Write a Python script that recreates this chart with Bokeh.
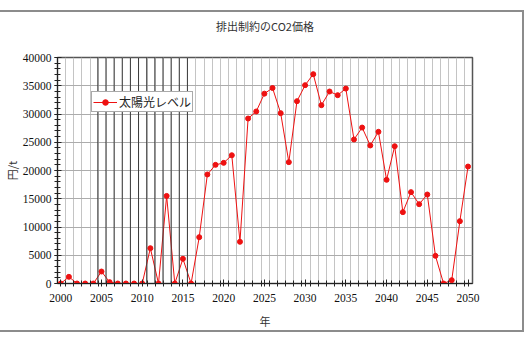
from bokeh.plotting import figure
from bokeh.models import (ColumnDataSource, FixedTicker, Span, Legend, LegendItem, Spacer, Title)
from bokeh.layouts import column
from bokeh.embed import file_html
from bokeh.resources import INLINE

years = list(range(2000, 2051))
solar_level = [0, 1180, 0, 0, 0, 2120, 240, 0, 0, 0,
               0, 6250, 0, 15500, 0, 4370, 0, 8200, 19300, 21000,
               21350, 22700, 7380, 29200, 30450, 33600, 34600, 30150, 21480, 32270,
               35100, 37050, 31560, 33980, 33330, 34500, 25490, 27600, 24430, 26850,
               18350, 24300, 12630, 16170, 14040, 15750, 4900, 0, 590, 11030,
               20700]
x_ticks = list(range(2000, 2051, 5))
y_ticks = list(range(0, 40001, 5000))

title_text = "排出制約のCO2価格"
x_title = "年"
y_title = "円/t"
series_name = "太陽光レベル"

src = ColumnDataSource(dict(x=years, y=solar_level))

p = figure(width=524, height=322, output_backend="svg", toolbar_location=None,
           x_range=(1999.6, 2050.55), y_range=(0, 40000), title=None,
           min_border_left=56, min_border_right=52, min_border_top=45, min_border_bottom=51)
p.styles = {"border-top": "2px solid #8c8c8c", "border-right": "2px solid #8c8c8c",
            "border-bottom": "2px solid #8c8c8c"}

main_title = Title(text=title_text, align="center", text_font="Noto Sans CJK JP",
                   text_font_size="11px", text_font_style="normal", text_color="#333333",
                   standoff=0)
gap = Title(text=" ", text_font_size="11px", standoff=10)
p.above = [gap, main_title]

p.outline_line_color = "#555555"
p.outline_line_width = 1.5

minor_x = [y + 0.6 for y in years[:-1]]
p.xaxis.ticker = FixedTicker(ticks=x_ticks, minor_ticks=minor_x)
p.yaxis.ticker = FixedTicker(ticks=y_ticks, minor_ticks=list(range(0, 40001, 1000)))
p.xgrid.ticker = FixedTicker(ticks=minor_x)
p.xgrid.grid_line_color = "#c4c4c4"
p.xgrid.grid_line_width = 1
p.ygrid.grid_line_color = "#acacac"
p.ygrid.grid_line_width = 1

for ax in (p.xaxis[0], p.yaxis[0]):
    ax.axis_line_color = "#222222"
    ax.major_tick_line_color = "#222222"
    ax.minor_tick_line_color = "#222222"
    ax.major_tick_in = 4
    ax.major_tick_out = 3
    ax.minor_tick_in = 3
    ax.minor_tick_out = 3
    ax.major_label_text_font = "Liberation Serif"
    ax.major_label_text_font_size = "11.5px"
    ax.major_label_text_color = "#111111"
    ax.axis_label_text_font = "Noto Sans CJK JP"
    ax.axis_label_text_font_size = "11px"
    ax.axis_label_text_font_style = "normal"
    ax.axis_label_text_color = "#333333"

p.xaxis.axis_label = x_title
p.yaxis.axis_label = y_title
p.xaxis.major_label_standoff = 7
p.xaxis.axis_label_standoff = 8
p.yaxis.major_label_standoff = 3
p.yaxis.axis_label_standoff = 0

for yv in years[4:16]:
    p.add_layout(Span(location=yv + 0.55, dimension="height", line_color="#3a3a3a", line_width=1))

ln = p.line("x", "y", source=src, line_color="#ee1111", line_width=1)
mk = p.scatter("x", "y", source=src, size=5, fill_color="#ee1111", line_color="#ee1111")

legend = Legend(items=[LegendItem(label=series_name, renderers=[ln, mk])],
                location=(34, 171), orientation="horizontal")
legend.label_text_font = "Noto Sans CJK JP"
legend.label_text_font_size = "12px"
legend.label_text_color = "#222222"
legend.border_line_color = "#555555"
legend.border_line_width = 1
legend.background_fill_alpha = 1
legend.padding = 1
legend.margin = 0
legend.spacing = 0
legend.glyph_width = 24
legend.glyph_height = 14
legend.label_standoff = 2
legend.label_height = 14
p.add_layout(legend, "center")

layout = column(Spacer(height=10), p, spacing=0)
open("out.html", "w").write(file_html(layout, INLINE))
